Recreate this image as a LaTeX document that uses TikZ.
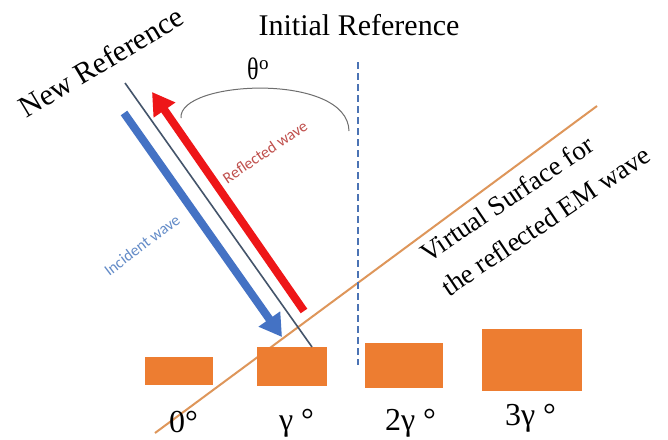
\documentclass[tikz,border=0pt]{standalone}
\usepackage{fontspec}
\setmainfont{Liberation Serif}
\newfontfamily\calib{Carlito}
\usetikzlibrary{arrows.meta}
\definecolor{newrefc}{RGB}{68,84,106}
\definecolor{incblue}{RGB}{68,114,196}
\definecolor{refred}{RGB}{238,22,24}
\definecolor{arcgray}{RGB}{110,110,110}
\definecolor{dashblue}{RGB}{75,115,180}
\definecolor{surforange}{RGB}{222,150,90}
\definecolor{blockorange}{RGB}{237,125,49}
\definecolor{inctext}{RGB}{100,140,200}
\definecolor{reftext}{RGB}{192,80,77}
\tikzset{
  lbl/.style={inner sep=0pt, outer sep=0pt},
  bigserif/.style={lbl, font=\fontsize{30}{36}\selectfont},
  anglelbl/.style={lbl, anchor=base west, font=\fontsize{32}{38}\selectfont},
  surflbl/.style={lbl, anchor=base west, rotate=34, font=\fontsize{27}{32}\selectfont},
  wavelbl/.style={lbl, font=\calib\fontsize{16}{19}\selectfont},
  block/.style={fill=blockorange, draw=none},
  wavearrow/.style={line width=8pt, -{Triangle[length=22pt,width=25pt]}},
}
\newcommand{\nodepth}[1]{\raisebox{0pt}[\height][0pt]{#1}}
\begin{document}
\begin{tikzpicture}[x=1pt,y=-1pt]
\useasboundingbox (0,0) rectangle (668,439);
\fill[white] (0,0) rectangle (668,439);

% coordinates
\coordinate (surfA) at (155,433);
\coordinate (surfB) at (597,106);
\coordinate (nrA) at (125,83);
\coordinate (nrB) at (312,347);
\coordinate (incA) at (124,113);
\coordinate (incB) at (282,337);
\coordinate (refA) at (304,311);
\coordinate (refB) at (152,92);
\coordinate (dashA) at (358,62);
\coordinate (dashB) at (358,365);
\coordinate (arcA) at (181,118);
\coordinate (arcB) at (349,131);

% virtual surface line (behind blocks)
\draw[surforange, line width=2pt] (surfA) -- (surfB);

% blocks
\node[block, minimum width=68pt, minimum height=28pt, inner sep=0pt] (b0) at (179,371) {};
\node[block, minimum width=70pt, minimum height=39pt, inner sep=0pt] (b1) at (292,366.5) {};
\node[block, minimum width=78pt, minimum height=45pt, inner sep=0pt] (b2) at (404,365.5) {};
\node[block, minimum width=100pt, minimum height=62pt, inner sep=0pt] (b3) at (532,360) {};

% dashed initial reference
\draw[dashblue, line width=2.4pt, dash pattern=on 7pt off 4pt] (dashA) -- (dashB);

% new reference thin line
\draw[newrefc, line width=1.6pt] (nrA) -- (nrB);

% waves
\draw[wavearrow, incblue] (incA) -- (incB);
\draw[wavearrow, refred] (refA) -- (refB);

% theta arc
\draw[arcgray, line width=1pt] (arcA) .. controls (178,80) and (348,72) .. (arcB);

% labels
\node[bigserif, anchor=base] (initref) at (359,35) {Initial Reference};
\node[bigserif, rotate=31, font=\fontsize{30}{36}\selectfont] (newref) at (101,62) {New Reference};
\node[lbl, anchor=base west, font=\fontsize{31}{36}\selectfont] (theta) at (247,79) {\scalebox{0.78}[1]{θ}\kern0.5pt\raisebox{10pt}{\fontsize{19}{19}\selectfont o}};
\node[wavelbl, rotate=37, text=inctext] (inclbl) at (142,245) {Incident wave};
\node[wavelbl, rotate=34, text=reftext] (reflbl) at (265,152) {Reflected wave};
\node[surflbl] (surf1) at (428,263) {Virtual Surface for};
\node[surflbl] (surf2) at (449,297) {the reflected EM wave};

\node[anglelbl] (l0) at (169,432) {\nodepth{0°}};
\node[anglelbl] (l1) at (279,430) {\nodepth{γ °}};
\node[anglelbl] (l2) at (385,430) {\nodepth{2γ °}};
\node[anglelbl] (l3) at (505,425) {\nodepth{3γ °}};
\end{tikzpicture}
\end{document}
